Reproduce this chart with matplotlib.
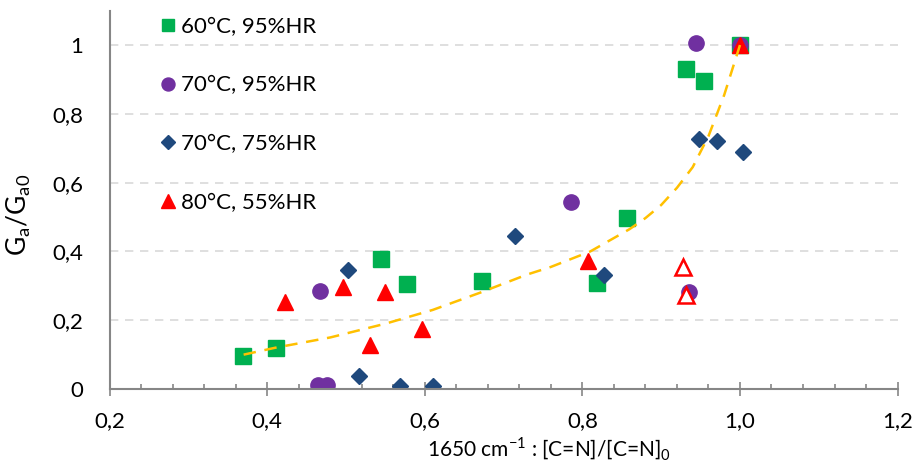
import matplotlib.pyplot as plt
from matplotlib.ticker import MultipleLocator, FuncFormatter

plt.rcParams['font.family'] = ['Lato', 'DejaVu Sans']

# 60°C, 95%HR
x60 = [0.369, 0.411, 0.544, 0.578, 0.672, 0.818, 0.857, 0.931, 0.954, 1.0]
y60 = [0.096, 0.119, 0.378, 0.305, 0.314, 0.308, 0.497, 0.930, 0.895, 1.0]

# 70°C, 95%HR
x70a = [0.467, 0.464, 0.476, 0.785, 0.935, 0.944, 1.0]
y70a = [0.285, 0.012, 0.012, 0.544, 0.282, 1.006, 1.0]

# 70°C, 75%HR
x70b = [0.503, 0.517, 0.568, 0.611, 0.714, 0.827, 0.948, 0.971, 1.004]
y70b = [0.346, 0.038, 0.009, 0.009, 0.445, 0.331, 0.727, 0.721, 0.689]

# 80°C, 55%HR
x80 = [0.422, 0.496, 0.550, 0.596, 0.531, 0.807, 1.0]
y80 = [0.253, 0.297, 0.282, 0.174, 0.128, 0.372, 1.0]
x80_open = [0.928, 0.932]
y80_open = [0.355, 0.273]

# trend curve
xt = [0.37, 0.41, 0.48, 0.55, 0.61, 0.67, 0.73, 0.76, 0.81, 0.86, 0.88, 0.90, 0.92, 0.94, 0.96, 0.98, 1.0]
yt = [0.10, 0.12, 0.15, 0.19, 0.23, 0.28, 0.333, 0.355, 0.40, 0.465, 0.497, 0.535, 0.585, 0.645, 0.735, 0.855, 1.0]

fig = plt.figure(figsize=(9.14, 4.71), dpi=100)
ax = fig.add_axes([0.120, 0.174, 0.862, 0.8034])

ax.plot(x60, y60, 's', color='#00B050', markersize=11, markeredgecolor='#00B050', label='60°C, 95%HR')
ax.plot(x70a, y70a, 'o', color='#7030A0', markersize=11, markeredgecolor='#7030A0', label='70°C, 95%HR')
ax.plot(x70b, y70b, 'D', color='#1F497D', markersize=8.5, markeredgecolor='#1F497D', label='70°C, 75%HR')
ax.plot(x80, y80, '^', color='#FF0000', markersize=12, markeredgecolor='#FF0000', label='80°C, 55%HR')
ax.plot(x80_open, y80_open, '^', markerfacecolor='white', markeredgecolor='#FF0000', markersize=11, markeredgewidth=1.8)
ax.plot(xt, yt, '--', color='#FFC000', linewidth=1.8, dashes=(5, 3.5))

ax.set_xlim(0.2, 1.2)
ax.set_ylim(0, 1.1)
ax.xaxis.set_major_locator(MultipleLocator(0.2))
ax.xaxis.set_minor_locator(MultipleLocator(0.04))
ax.yaxis.set_major_locator(MultipleLocator(0.2))
ax.xaxis.set_major_formatter(FuncFormatter(lambda v, p: f'{v:.1f}'.replace('.', ',')))
ax.yaxis.set_major_formatter(FuncFormatter(lambda v, p: ('0' if abs(v) < 1e-9 else ('1' if abs(v - 1) < 1e-9 else f'{v:.1f}'.replace('.', ',')))))

for y in [0.2, 0.4, 0.6, 0.8, 1.0]:
    ax.axhline(y, color='#D9D9D9', linestyle=(0, (5, 4)), linewidth=1.2, zorder=0)

for s in ['top', 'right']:
    ax.spines[s].set_visible(False)
for s in ['left', 'bottom']:
    ax.spines[s].set_color('#868686')
    ax.spines[s].set_linewidth(1.5)

ax.tick_params(axis='x', which='major', direction='inout', length=10, width=1.2, color='#868686', labelsize=16, pad=11)
ax.tick_params(axis='x', which='minor', direction='in', length=3.6, width=1.2, color='#868686')
ax.tick_params(axis='y', length=0, labelsize=16, pad=19)

ax.set_xlabel(r'1650 cm$^{\mathregular{-1}}$ : [C=N]/[C=N]$_\mathregular{0}$', fontsize=15)
ax.xaxis.set_label_coords(0.558, -0.125)
ax.set_ylabel(r'G$_\mathregular{a}$/G$_\mathregular{a0}$', fontsize=19)
ax.yaxis.set_label_coords(-0.097, 0.46)

leg = ax.legend(loc='upper left', bbox_to_anchor=(0.04, 1.037), frameon=False, fontsize=16,
                handlelength=0.6, handletextpad=0.3, labelspacing=1.74, markerscale=0.85)

fig.savefig('out.png', dpi=100)
